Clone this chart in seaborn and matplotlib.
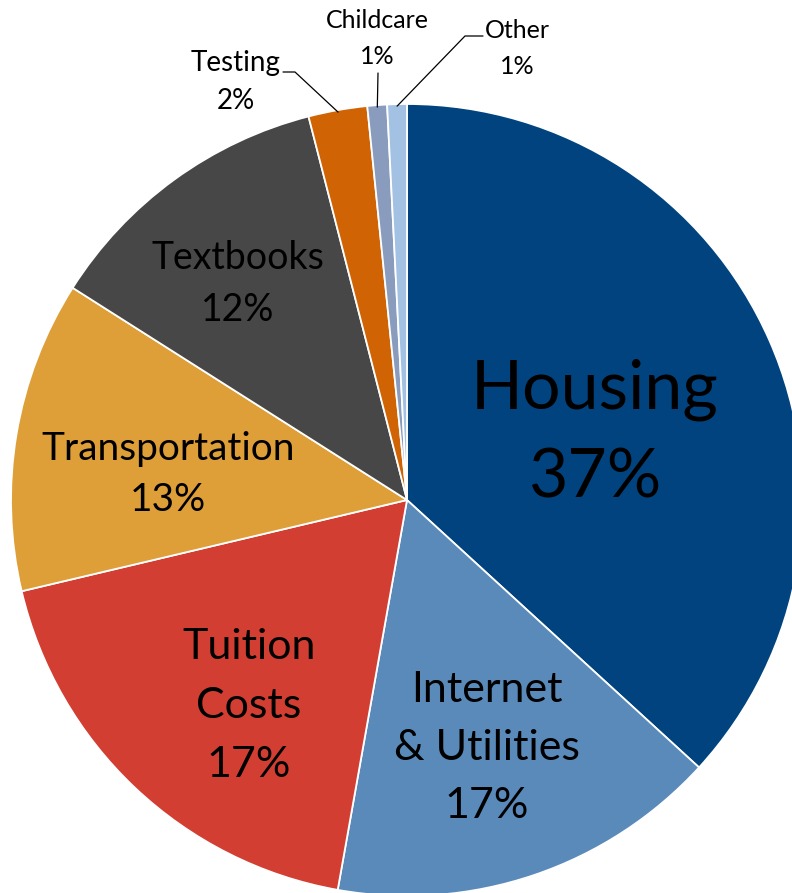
import numpy as np
import matplotlib
matplotlib.use("Agg")
import matplotlib.pyplot as plt
import seaborn as sns

# Datos (porcentajes)
categorias = ["Housing", "Internet & Utilities", "Tuition Costs", "Transportation",
              "Textbooks", "Testing", "Childcare", "Other"]
valores = [36.8, 16.0, 18.5, 12.7, 12.0, 2.4, 0.8, 0.8]
etiquetas_pct = ["37%", "17%", "17%", "13%", "12%", "2%", "1%", "1%"]
lineas_texto = [["Housing"], ["Internet", "& Utilities"], ["Tuition", "Costs"],
                ["Transportation"], ["Textbooks"], ["Testing"], ["Childcare"], ["Other"]]
colores = ["#00437F", "#5A8ABA", "#D23E32", "#DE9F39", "#474747",
           "#D06303", "#8A9CBD", "#A3C1E3"]

sns.set_style("white")
plt.rcParams['font.family'] = ['Lato', 'DejaVu Sans']

W, H = 792, 893
fig = plt.figure(figsize=(W / 100, H / 100), dpi=100)
ax = fig.add_axes([0, 0, 1, 1])

cx, cy, R = 407, 500, 396  # centro y radio en pixeles (y desde arriba)
wedges, _ = ax.pie(valores, colors=sns.color_palette(colores), startangle=90,
                   counterclock=False, radius=R, center=(cx, H - cy),
                   wedgeprops=dict(edgecolor='white', linewidth=1.3))
ax.set_xlim(0, W)
ax.set_ylim(0, H)
ax.set_aspect('equal')
ax.axis('off')

# Posicion de cada etiqueta: x, y de la primera linea, salto entre lineas, tamano
layout = [
    (595, 390, 88, 49),
    (487, 690, 58, 31),
    (249, 647, 59, 31),
    (168, 449, 51, 28),
    (238, 258, 52, 27),
    (236, 63, 38, 20),
    (377, 20, 37, 18),
    (517, 30, 36, 18),
]

for lineas, pct, (x, y0, gap, fs) in zip(lineas_texto, etiquetas_pct, layout):
    for i, t in enumerate(lineas + [pct]):
        ax.text(x, H - (y0 + i * gap), t, ha='center', va='center',
                fontsize=fs, color='black')

# Lineas guia para las porciones pequenas
guias = {5: [(283, 72), (295, 72)], 6: [(378, 73)], 7: [(483, 36), (465, 36)]}
for idx, pts in guias.items():
    w = wedges[idx]
    ang = np.deg2rad((w.theta1 + w.theta2) / 2)
    ex, ey = cx + (R - 2) * np.cos(ang), cy - (R - 2) * np.sin(ang)
    xs = [p[0] for p in pts] + [ex]
    ys = [H - p[1] for p in pts] + [H - ey]
    ax.plot(xs, ys, color='black', linewidth=0.9)

fig.savefig("out.png", dpi=100)
